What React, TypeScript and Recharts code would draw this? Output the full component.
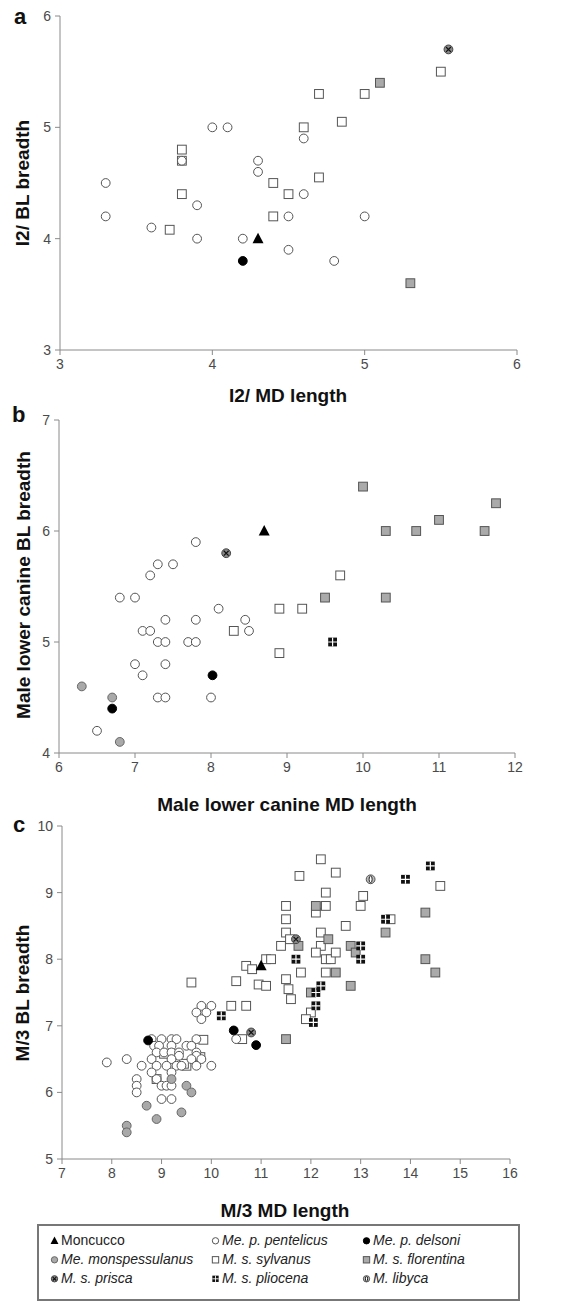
import React from "react";
import { ScatterChart, Scatter, XAxis, YAxis } from "recharts";

type P = { x: number; y: number };
const pts = (a: number[][]): P[] => a.map(([x, y]) => ({ x, y }));

// ---------- Panel a: I2 ----------
const aTicksX = [3, 4, 5, 6];
const aTicksY = [3, 4, 5, 6];
const aMoncucco = pts([[4.3, 4.0]]);
const aPentelicus = pts([
  [3.3, 4.5], [3.3, 4.2], [3.6, 4.1], [3.9, 4.0], [3.9, 4.3], [3.8, 4.7], [4.0, 5.0], [4.1, 5.0],
  [4.2, 4.0], [4.3, 4.7], [4.3, 4.6], [4.5, 4.2], [4.5, 3.9], [4.6, 4.9], [4.6, 4.4], [4.8, 3.8], [5.0, 4.2],
]);
const aDelsoni = pts([[4.2, 3.8]]);
const aSylvanus = pts([
  [3.8, 4.8], [3.8, 4.7], [3.8, 4.4], [3.72, 4.08], [4.4, 4.5], [4.4, 4.2], [4.5, 4.4], [4.6, 5.0],
  [4.7, 5.3], [4.7, 4.55], [4.85, 5.05], [5.0, 5.3], [5.5, 5.5],
]);
const aFlorentina = pts([[5.1, 5.4], [5.3, 3.6]]);
const aPrisca = pts([[5.55, 5.7]]);

// ---------- Panel b: male lower canine ----------
const bTicksX = [6, 7, 8, 9, 10, 11, 12];
const bTicksY = [4, 5, 6, 7];
const bMoncucco = pts([[8.7, 6.0]]);
const bPentelicus = pts([
  [6.5, 4.2], [6.8, 5.4], [7.0, 5.4], [7.0, 4.8], [7.1, 5.1], [7.2, 5.1], [7.1, 4.7], [7.2, 5.6],
  [7.3, 5.7], [7.5, 5.7], [7.3, 5.0], [7.4, 5.0], [7.4, 5.2], [7.4, 4.8], [7.3, 4.5], [7.4, 4.5],
  [7.7, 5.0], [7.8, 5.0], [7.8, 5.2], [7.8, 5.9], [8.0, 4.5], [8.1, 5.3], [8.45, 5.2], [8.5, 5.1],
]);
const bDelsoni = pts([[6.7, 4.4], [8.02, 4.7]]);
const bMonspessulanus = pts([[6.3, 4.6], [6.7, 4.5], [6.8, 4.1]]);
const bPrisca = pts([[8.2, 5.8]]);
const bSylvanus = pts([[8.3, 5.1], [8.9, 5.3], [8.9, 4.9], [9.2, 5.3], [9.7, 5.6]]);
const bFlorentina = pts([
  [9.5, 5.4], [10.0, 6.4], [10.3, 6.0], [10.3, 5.4], [10.7, 6.0], [11.0, 6.1], [11.6, 6.0], [11.75, 6.25],
]);
const bPliocena = pts([[9.6, 5.0]]);

// ---------- Panel c: M/3 ----------
const cTicksX = [7, 8, 9, 10, 11, 12, 13, 14, 15, 16];
const cTicksY = [5, 6, 7, 8, 9, 10];
const cMoncucco = pts([[11.0, 7.9]]);
const cPentelicus = pts([
  [8.8, 6.8], [9.0, 6.8], [9.2, 6.8], [9.3, 6.8], [9.7, 6.8],
  [8.85, 6.7], [8.95, 6.7], [9.2, 6.7], [9.5, 6.7], [9.6, 6.7],
  [8.9, 6.6], [9.05, 6.6], [9.2, 6.6], [9.35, 6.6], [9.7, 6.6], [9.35, 6.55], [9.7, 6.55],
  [7.9, 6.45], [8.3, 6.5], [8.8, 6.5], [9.2, 6.5], [9.6, 6.5], [9.8, 6.5],
  [8.6, 6.4], [8.9, 6.4], [9.1, 6.4], [9.3, 6.4], [9.4, 6.4], [9.7, 6.4], [10.0, 6.4],
  [8.8, 6.3], [9.2, 6.3], [8.5, 6.2], [8.9, 6.2], [8.5, 6.1], [9.0, 6.1], [9.1, 6.1], [9.2, 6.1],
  [8.5, 6.0], [9.0, 5.9], [9.2, 5.9],
  [9.8, 7.3], [10.0, 7.3], [9.7, 7.2], [9.9, 7.2], [9.8, 7.1], [10.5, 6.8],
]);
const cMonspessulanus = pts([
  [8.3, 5.5], [8.3, 5.4], [8.7, 5.8], [8.9, 5.6], [9.4, 5.7], [9.5, 6.1], [9.6, 6.0], [9.2, 6.2],
]);
const cDelsoni = pts([[8.73, 6.78], [10.45, 6.93], [10.9, 6.71]]);
const cPrisca = pts([[10.8, 6.9], [11.7, 8.3]]);
const cLibyca = pts([[13.2, 9.2]]);
const cPliocena = pts([
  [10.2, 7.15], [11.7, 8.0], [13.0, 8.2], [13.0, 8.0], [13.9, 9.2], [14.4, 9.4], [13.5, 8.6],
  [12.1, 7.5], [12.2, 7.6], [12.1, 7.3], [12.05, 7.05],
]);
const cFlorentina = pts([
  [12.1, 8.8], [12.35, 8.3], [12.5, 7.8], [12.8, 8.2], [12.9, 8.1], [12.8, 7.6], [11.5, 6.8],
  [12.0, 7.5], [13.5, 8.4], [14.3, 8.7], [14.3, 8.0], [14.5, 7.8], [11.75, 8.2],
]);
const cSylvanus = pts([
  [12.2, 9.5], [11.77, 9.25], [12.5, 9.3], [12.3, 9.0], [13.05, 8.95], [14.6, 9.1],
  [11.5, 8.8], [11.5, 8.6], [11.5, 8.4], [12.1, 8.7], [12.3, 8.8], [13.0, 8.8], [12.7, 8.5], [13.6, 8.6],
  [11.4, 8.2], [11.58, 8.3], [12.2, 8.4], [12.2, 8.2], [12.1, 8.1], [12.3, 8.0], [12.4, 8.0], [12.5, 8.1],
  [12.3, 7.8], [11.8, 7.8], [11.5, 7.7], [11.55, 7.55], [11.6, 7.4], [12.0, 7.2], [11.9, 7.1],
  [10.7, 7.9], [10.82, 7.85], [11.1, 8.0], [11.2, 8.0], [10.95, 7.62], [11.1, 7.6], [10.5, 7.67],
  [9.6, 7.65], [10.4, 7.3], [10.7, 7.3], [10.62, 6.8], [9.84, 6.79], [9.5, 6.4], [8.9, 6.2],
  [9.05, 6.58], [9.25, 6.58], [9.45, 6.43], [9.78, 6.53],
]);

// ---------- Legend ----------
const legendItems = [
  { key: "moncucco", label: "Moncucco", italic: false },
  { key: "pentelicus", label: "Me. p. pentelicus", italic: true },
  { key: "delsoni", label: "Me. p. delsoni", italic: true },
  { key: "monspessulanus", label: "Me. monspessulanus", italic: true },
  { key: "sylvanus", label: "M. s. sylvanus", italic: true },
  { key: "florentina", label: "M. s. florentina", italic: true },
  { key: "prisca", label: "M. s. prisca", italic: true },
  { key: "pliocena", label: "M. s. pliocena", italic: true },
  { key: "libyca", label: "M. libyca", italic: true },
];

// ---------- Marker shapes ----------
const R = 4.4;
const S = 8.8;
const drawMarker = (kind: string, cx: number, cy: number, scale = 1) => {
  const r = R * scale;
  const s = S * scale;
  switch (kind) {
    case "moncucco":
      return <polygon points={`${cx},${cy - 6 * scale} ${cx + 5.5 * scale},${cy + 4.5 * scale} ${cx - 5.5 * scale},${cy + 4.5 * scale}`} fill="#000" />;
    case "pentelicus":
      return <circle cx={cx} cy={cy} r={r} fill="#fff" stroke="#555" strokeWidth={1} />;
    case "delsoni":
      return <circle cx={cx} cy={cy} r={r} fill="#000" stroke="#000" strokeWidth={1} />;
    case "monspessulanus":
      return <circle cx={cx} cy={cy} r={r} fill="#a9a9a9" stroke="#666" strokeWidth={1} />;
    case "sylvanus":
      return <rect x={cx - s / 2} y={cy - s / 2} width={s} height={s} fill="#fff" stroke="#555" strokeWidth={1} />;
    case "florentina":
      return <rect x={cx - s / 2} y={cy - s / 2} width={s} height={s} fill="#aaa" stroke="#555" strokeWidth={1} />;
    case "prisca":
      return (
        <g>
          <circle cx={cx} cy={cy} r={r} fill="#888" stroke="#444" strokeWidth={1} />
          <path d={`M${cx - r * 0.55},${cy - r * 0.55}L${cx + r * 0.55},${cy + r * 0.55}M${cx + r * 0.55},${cy - r * 0.55}L${cx - r * 0.55},${cy + r * 0.55}`} stroke="#111" strokeWidth={1.2} />
        </g>
      );
    case "pliocena":
      return (
        <g>
          <rect x={cx - s / 2} y={cy - s / 2} width={s} height={s} fill="#111" />
          <path d={`M${cx},${cy - s / 2}L${cx},${cy + s / 2}M${cx - s / 2},${cy}L${cx + s / 2},${cy}`} stroke="#fff" strokeWidth={1.2 * scale} />
        </g>
      );
    case "libyca":
      return (
        <g>
          <circle cx={cx} cy={cy} r={r} fill="#bbb" stroke="#555" strokeWidth={1} />
          <ellipse cx={cx} cy={cy} rx={r * 0.35} ry={r * 0.75} fill="#fff" stroke="#222" strokeWidth={1} />
        </g>
      );
    default:
      return null;
  }
};
const shapeFor = (kind: string) => (props: any) => drawMarker(kind, props.cx, props.cy);

const FONT = "'Liberation Sans', Arial, sans-serif";
const axisStroke = "#8a8a8a";
const tickStyle = { fill: "#4a4a4a", fontSize: 14, fontFamily: FONT };

type SeriesDef = { kind: string; data: P[] };

function Panel(props: {
  top: number;
  height: number;
  margin: { top: number; right: number; bottom: number; left: number };
  yWidth: number;
  xDomain: number[];
  yDomain: number[];
  xTicks: number[];
  yTicks: number[];
  series: SeriesDef[];
}) {
  const { top, height, margin, yWidth, xDomain, yDomain, xTicks, yTicks, series } = props;
  return (
    <div style={{ position: "absolute", left: 0, top, width: 563, height }}>
      <ScatterChart width={563} height={height} margin={margin}>
        <XAxis
          type="number"
          dataKey="x"
          domain={xDomain}
          ticks={xTicks}
          allowDataOverflow
          height={30}
          tickSize={5}
          tickMargin={4}
          stroke={axisStroke}
          tick={tickStyle}
          axisLine={{ stroke: axisStroke }}
          tickLine={{ stroke: axisStroke }}
        />
        <YAxis
          type="number"
          dataKey="y"
          domain={yDomain}
          ticks={yTicks}
          allowDataOverflow
          width={yWidth}
          tickSize={5}
          tickMargin={4}
          stroke={axisStroke}
          tick={tickStyle}
          axisLine={{ stroke: axisStroke }}
          tickLine={{ stroke: axisStroke }}
        />
        {series.map((s) => (
          <Scatter key={s.kind} name={s.kind} data={s.data} shape={shapeFor(s.kind)} isAnimationActive={false} />
        ))}
      </ScatterChart>
    </div>
  );
}

const titleStyle: React.CSSProperties = {
  position: "absolute",
  fontFamily: FONT,
  fontWeight: "bold",
  fontSize: 19,
  color: "#111",
  whiteSpace: "nowrap",
  lineHeight: 1,
};

function XTitle({ text, cx, cy }: { text: string; cx: number; cy: number }) {
  return <div style={{ ...titleStyle, left: cx, top: cy, transform: "translate(-50%, -50%)" }}>{text}</div>;
}
function YTitle({ text, cx, cy }: { text: string; cx: number; cy: number }) {
  return (
    <div style={{ ...titleStyle, left: cx, top: cy, transform: "translate(-50%, -50%) rotate(-90deg)" }}>{text}</div>
  );
}
function Letter({ text, x, y }: { text: string; x: number; y: number }) {
  return <div style={{ ...titleStyle, fontSize: 22, left: x, top: y }}>{text}</div>;
}

export default function App() {
  const legendCols = [50, 211, 362];
  const legendRows = [1240, 1259, 1278];
  return (
    <div style={{ position: "absolute", left: 0, top: 0, width: 563, height: 1304, background: "#fff", fontFamily: FONT }}>
      <Panel
        top={0}
        height={390}
        margin={{ top: 16, right: 46, bottom: 10, left: 0 }}
        yWidth={60}
        xDomain={[3, 6]}
        yDomain={[3, 6]}
        xTicks={aTicksX}
        yTicks={aTicksY}
        series={[
          { kind: "sylvanus", data: aSylvanus },
          { kind: "florentina", data: aFlorentina },
          { kind: "pentelicus", data: aPentelicus },
          { kind: "prisca", data: aPrisca },
          { kind: "delsoni", data: aDelsoni },
          { kind: "moncucco", data: aMoncucco },
        ]}
      />
      <Panel
        top={400}
        height={390}
        margin={{ top: 20, right: 48, bottom: 7, left: 0 }}
        yWidth={59}
        xDomain={[6, 12]}
        yDomain={[4, 7]}
        xTicks={bTicksX}
        yTicks={bTicksY}
        series={[
          { kind: "sylvanus", data: bSylvanus },
          { kind: "florentina", data: bFlorentina },
          { kind: "pentelicus", data: bPentelicus },
          { kind: "monspessulanus", data: bMonspessulanus },
          { kind: "pliocena", data: bPliocena },
          { kind: "prisca", data: bPrisca },
          { kind: "delsoni", data: bDelsoni },
          { kind: "moncucco", data: bMoncucco },
        ]}
      />
      <Panel
        top={810}
        height={390}
        margin={{ top: 16, right: 53, bottom: 11, left: 0 }}
        yWidth={62}
        xDomain={[7, 16]}
        yDomain={[5, 10]}
        xTicks={cTicksX}
        yTicks={cTicksY}
        series={[
          { kind: "sylvanus", data: cSylvanus },
          { kind: "florentina", data: cFlorentina },
          { kind: "pentelicus", data: cPentelicus },
          { kind: "monspessulanus", data: cMonspessulanus },
          { kind: "pliocena", data: cPliocena },
          { kind: "prisca", data: cPrisca },
          { kind: "libyca", data: cLibyca },
          { kind: "delsoni", data: cDelsoni },
          { kind: "moncucco", data: cMoncucco },
        ]}
      />

      <Letter text="a" x={14} y={6} />
      <Letter text="b" x={12} y={404} />
      <Letter text="c" x={13} y={814} />

      <YTitle text="I2/ BL breadth" cx={22} cy={183} />
      <XTitle text="I2/ MD length" cx={288} cy={395} />
      <YTitle text="Male lower canine BL breadth" cx={23} cy={585} />
      <XTitle text="Male lower canine MD length" cx={287} cy={804} />
      <YTitle text="M/3 BL breadth" cx={22} cy={993} />
      <XTitle text="M/3 MD length" cx={285} cy={1210} />

      <div
        style={{
          position: "absolute",
          left: 37,
          top: 1224,
          width: 479,
          height: 73,
          border: "2px solid #777",
          boxSizing: "content-box",
        }}
      />
      {legendItems.map((it, i) => {
        const col = i % 3;
        const row = Math.floor(i / 3);
        const x = legendCols[col];
        const y = legendRows[row];
        return (
          <div key={it.key} style={{ position: "absolute", left: x, top: y - 9, height: 18, display: "flex", alignItems: "center", whiteSpace: "nowrap" }}>
            <svg width={9} height={9} style={{ marginRight: 2 }}>
              {drawMarker(it.key, 4.5, 4.8, 0.72)}
            </svg>
            <span style={{ fontSize: 14, fontStyle: it.italic ? "italic" : "normal", color: "#222", fontFamily: FONT }}>{it.label}</span>
          </div>
        );
      })}
    </div>
  );
}
